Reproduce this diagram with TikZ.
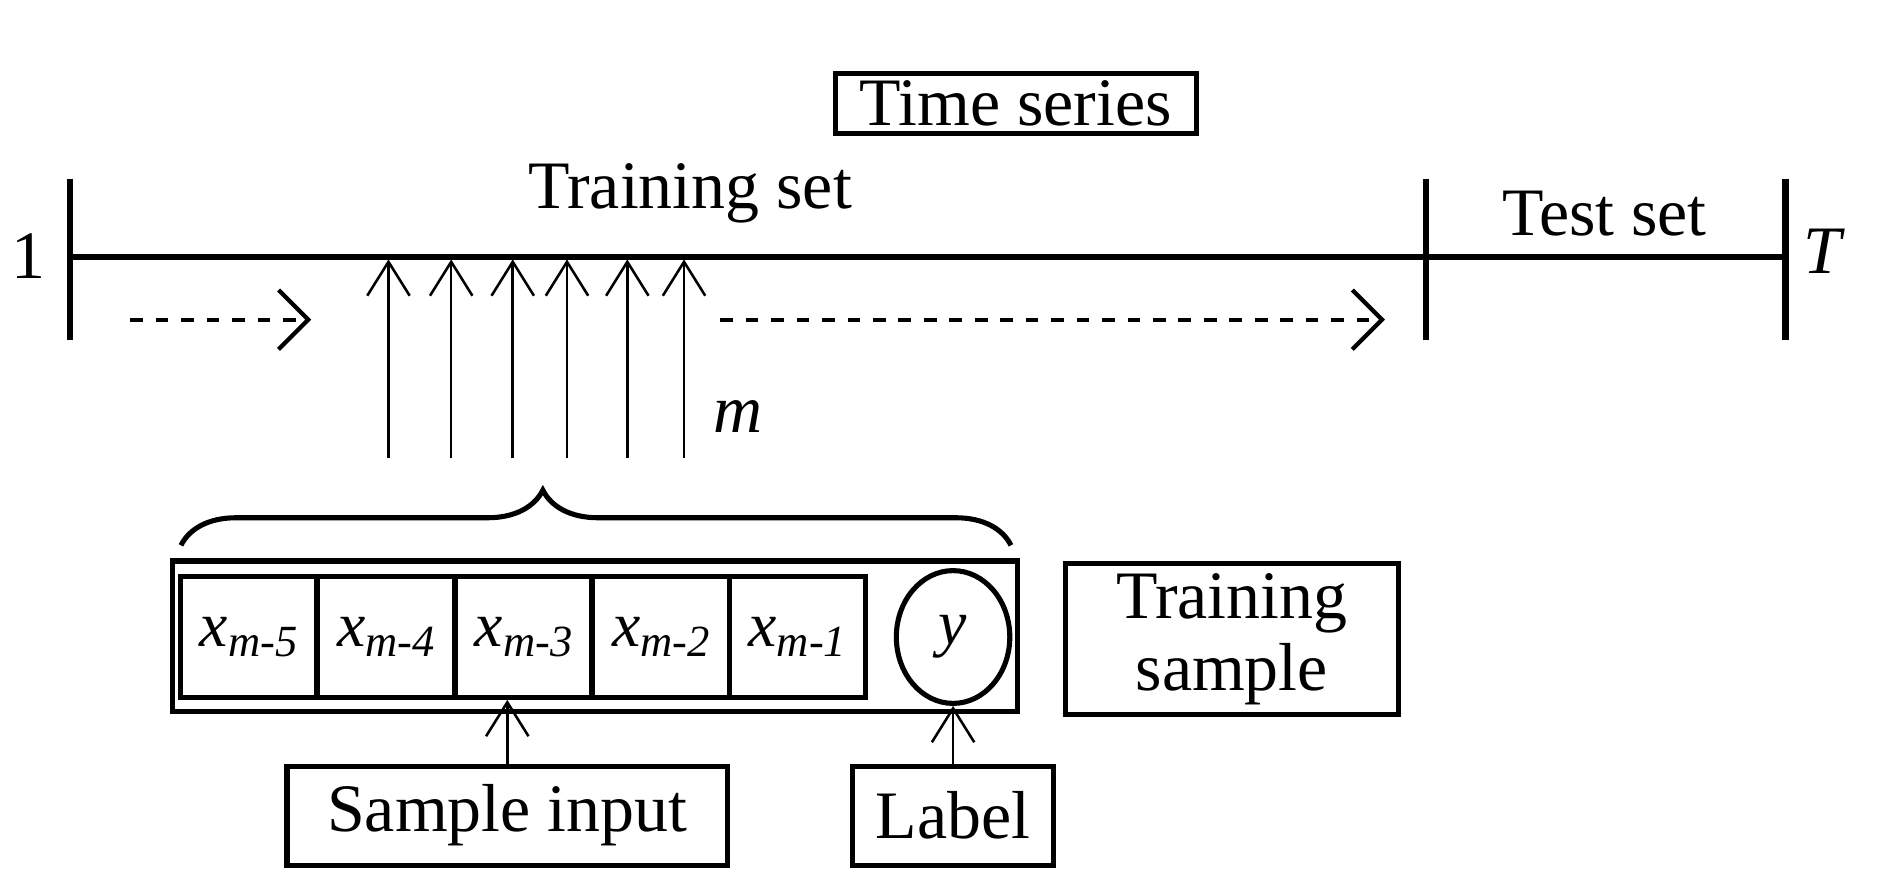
\documentclass[tikz,border=0pt]{standalone}
\usepackage{fontspec}
\setmainfont{Liberation Serif}
\usetikzlibrary{arrows.meta,decorations.pathreplacing,shapes.geometric}
\begin{document}
\begin{tikzpicture}[x=0.01cm,y=-0.01cm,
  box/.style={draw,line width=1.2pt,inner sep=0pt},
  txt/.style={font=\fontsize{16}{18}\selectfont},
  cell/.style={draw,line width=1.2pt,minimum width=1.13cm,minimum height=1cm,inner sep=0pt,font=\fontsize{15}{16}\selectfont},
  up/.style={-{Straight Barb[length=8pt,width=10pt]},line width=0.6pt},
  dasharr/.style={dashed,line width=1pt,-{Straight Barb[length=7pt,width=14pt]}}]
\useasboundingbox (0,0) rectangle (1560,738);
\node[box,minimum width=2.99cm,minimum height=0.5cm,txt] (ts) at (842,86) {Time series};
\coordinate (a) at (58,213); \coordinate (b) at (1182,213); \coordinate (c) at (1480,213);
\draw[line width=1.6pt] (a) -- (c);
\draw[line width=1.6pt] (58,148) -- (58,282) (1182,148) -- (1182,282) (1480,148) -- (1480,282);
\node[txt] (one) at (24,212) {1};
\node[txt] (T) at (1512,208) {\textit{T}};
\node[txt] (trs) at (572,160) {Training set};
\node[txt] (tes) at (1330,177) {Test set};
\coordinate (d1) at (108,265); \coordinate (d2) at (258,265);
\coordinate (d3) at (597,265); \coordinate (d4) at (1148,265);
\draw[dasharr] (d1) -- (d2);
\draw[dasharr] (d3) -- (d4);
\foreach \x [count=\i] in {322,374,425,470,520,567}{
  \coordinate (s\i) at (\x,380); \coordinate (e\i) at (\x,215);
  \draw[up] (s\i) -- (e\i);}
\node[txt] (m) at (612,345) {\textit{m}};
\draw[line width=1.2pt,decorate,decoration={brace,amplitude=13pt,aspect=0.436}] (150,452) -- (838,452);
\node[box,minimum width=7cm,minimum height=1.25cm] (outer) at (493,527.5) {};
\foreach \x/\s [count=\i] in {206/5,320/4,434/3,548/2,661/1}{
  \node[cell] (c\i) at (\x,528) {\textit{x}\raisebox{-0.35ex}{\fontsize{10.5}{11}\selectfont\textit{m-\s}}};}
\node[draw,line width=1.2pt,ellipse,minimum width=0.94cm,minimum height=1.1cm,inner sep=0pt,font=\fontsize{15}{16}\selectfont] (y) at (790,528) {\textit{y}};
\node[box,minimum width=2.76cm,minimum height=1.25cm,txt,align=center] (tsm) at (1021,529.5) {Training\\[-1pt]sample};
\node[box,minimum width=3.65cm,minimum height=0.82cm,txt] (si) at (420.5,676) {Sample input};
\node[box,minimum width=1.66cm,minimum height=0.82cm,txt] (lb) at (790,676) {Label};
\draw[up] (si.north) -- (si.north |- c3.south);
\draw[up] (lb.north) -- (y.south);
\end{tikzpicture}
\end{document}
